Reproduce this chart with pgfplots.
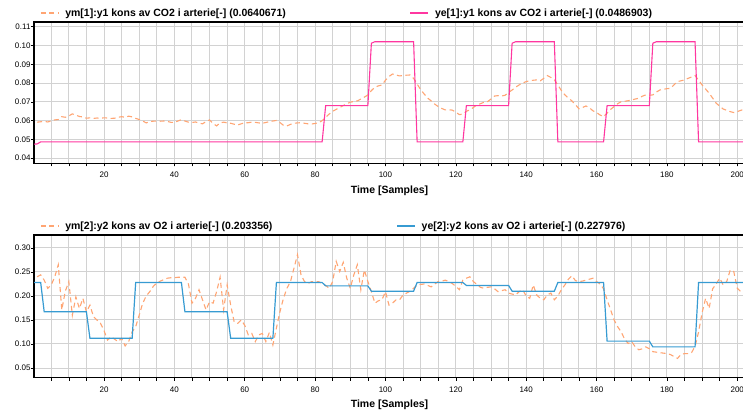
\documentclass[border=0pt]{standalone}
\usepackage{fontspec}
\setmainfont{Liberation Sans}
\usepackage{pgfplots}
\pgfplotsset{compat=1.18}
\definecolor{ymorange}{RGB}{255,165,115}
\definecolor{yepink}{RGB}{255,55,160}
\definecolor{yeblue}{RGB}{55,155,210}
\definecolor{gridgray}{RGB}{210,210,210}
\pgfplotsset{
  base/.style={
    scale only axis, width=711pt,
    xmin=0.1, xmax=202.2,
    axis line style={black, line width=1.4pt},
    xtick={20,40,...,200},
    minor xtick={5,10,...,200},
    xtick pos=left, ytick pos=left,
    tick align=outside,
    major tick length=3pt, minor tick length=3pt,
    tick style={black, line width=0.6pt},
    grid=both,
    major grid style={gridgray, line width=1pt},
    minor grid style={gridgray, line width=1pt},
    ticklabel style={font=\fontsize{8}{9}\selectfont},
    xticklabel style={yshift=-2.5pt},
    /pgf/number format/assume math mode=true,
    scaled y ticks=false,
    yticklabel style={xshift=3pt, /pgf/number format/fixed, /pgf/number format/fixed zerofill, /pgf/number format/precision=2},
    xlabel={Time [Samples]},
    xlabel style={font=\fontsize{10.5}{12}\selectfont\bfseries, at={(axis description cs:0.5,0)}, anchor=center, yshift=-27pt},
    legend columns=2,
    legend style={draw=none, fill=none, at={(axis description cs:0,1)}, anchor=west, xshift=6pt, yshift=9pt,
      font=\fontsize{10.5}{12}\selectfont\bfseries, inner sep=0pt,
      /tikz/every even column/.append style={column sep=122pt},
      /tikz/every odd column/.append style={column sep=4pt}},
    legend image code/.code={\draw[#1] (0pt,0pt) -- (18pt,0pt);},
  },
  ymstyle/.style={ymorange, line width=1.1pt, dash pattern=on 5pt off 3.5pt},
}
\begin{document}
\begin{tikzpicture}
\begin{axis}[base, at={(34pt,-22pt)}, anchor=north west, height=141.3pt,
  ymin=0.0373, ymax=0.1125,
  ytick={0.04,0.05,0.06,0.07,0.08,0.09,0.10,0.11}]
\addplot[ymstyle] coordinates {
(1,0.0592) (2,0.0594) (3,0.0596) (4,0.0593) (5,0.0598) (6,0.0604) (7,0.0606) (8,0.0621) (9,0.0618) (10,0.0625)
(11,0.0636) (12,0.0630) (13,0.0622) (14,0.0620) (15,0.0613) (16,0.0615) (17,0.0612) (18,0.0614) (19,0.0613) (20,0.0615)
(21,0.0614) (22,0.0612) (23,0.0613) (24,0.0618) (25,0.0621) (26,0.0618) (27,0.0624) (28,0.0620) (29,0.0612) (30,0.0606)
(31,0.0598) (32,0.0588) (33,0.0595) (34,0.0597) (35,0.0598) (36,0.0597) (37,0.0598) (38,0.0596) (39,0.0591) (40,0.0590)
(41,0.0598) (42,0.0605) (43,0.0598) (44,0.0592) (45,0.0590) (46,0.0593) (47,0.0587) (48,0.0583) (49,0.0595) (50,0.0604)
(51,0.0585) (52,0.0572) (53,0.0588) (54,0.0592) (55,0.0588) (56,0.0586) (57,0.0581) (58,0.0577) (59,0.0583) (60,0.0589)
(61,0.0589) (62,0.0592) (63,0.0591) (64,0.0588) (65,0.0586) (66,0.0590) (67,0.0595) (68,0.0598) (69,0.0601) (70,0.0590)
(71,0.0575) (72,0.0572) (73,0.0580) (74,0.0586) (75,0.0588) (76,0.0589) (77,0.0586) (78,0.0583) (79,0.0582) (80,0.0585)
(81,0.0589) (82,0.0600) (83,0.0618) (84,0.0635) (85,0.0650) (86,0.0660) (87,0.0670) (88,0.0680) (89,0.0690) (90,0.0698)
(91,0.0702) (92,0.0705) (93,0.0715) (94,0.0725) (95,0.0737) (96,0.0760) (97,0.0778) (98,0.0785) (99,0.0790) (100,0.0815)
(101,0.0835) (102,0.0848) (103,0.0843) (104,0.0838) (105,0.0840) (106,0.0842) (107,0.0843) (108,0.0825) (109,0.0795) (110,0.0765)
(111,0.0742) (112,0.0720) (113,0.0705) (114,0.0688) (115,0.0675) (116,0.0665) (117,0.0657) (118,0.0658) (119,0.0656) (120,0.0645)
(121,0.0632) (122,0.0635) (123,0.0650) (124,0.0657) (125,0.0670) (126,0.0684) (127,0.0690) (128,0.0698) (129,0.0701) (130,0.0715)
(131,0.0731) (132,0.0733) (133,0.0731) (134,0.0735) (135,0.0750) (136,0.0763) (137,0.0778) (138,0.0790) (139,0.0800) (140,0.0808)
(141,0.0812) (142,0.0815) (143,0.0817) (144,0.0812) (145,0.0825) (146,0.0840) (147,0.0830) (148,0.0817) (149,0.0790) (150,0.0760)
(151,0.0737) (152,0.0720) (153,0.0705) (154,0.0685) (155,0.0663) (156,0.0670) (157,0.0678) (158,0.0668) (159,0.0652) (160,0.0643)
(161,0.0630) (162,0.0621) (163,0.0640) (164,0.0660) (165,0.0675) (166,0.0690) (167,0.0701) (168,0.0703) (169,0.0706) (170,0.0710)
(171,0.0715) (172,0.0719) (173,0.0730) (174,0.0737) (175,0.0735) (176,0.0737) (177,0.0752) (178,0.0763) (179,0.0767) (180,0.0770)
(181,0.0772) (182,0.0790) (183,0.0808) (184,0.0812) (185,0.0817) (186,0.0825) (187,0.0832) (188,0.0840) (189,0.0815) (190,0.0790)
(191,0.0768) (192,0.0746) (193,0.0720) (194,0.0693) (195,0.0677) (196,0.0662) (197,0.0655) (198,0.0648) (199,0.0643) (200,0.0648)
(201,0.0655) (202,0.0660)
};
\addlegendentry{ym[1]:y1 kons av CO2 i arterie[-] (0.0640671)}
\addplot[yepink, line width=1.1pt] coordinates {
(0,0.0475) (1,0.0476) (2,0.0487) (82,0.0487) (83,0.068) (95,0.068) (96,0.1012) (97,0.102) (108,0.102)
(109,0.0487) (122,0.0487) (123,0.068) (135,0.068) (136,0.1012) (137,0.102) (148,0.102) (149,0.0487)
(162,0.0487) (163,0.068) (175,0.068) (176,0.1012) (177,0.102) (188,0.102) (189,0.0487) (202,0.0487)
};
\addlegendentry{ye[1]:y1 kons av CO2 i arterie[-] (0.0486903)}
\end{axis}
\begin{axis}[base, at={(34pt,-235pt)}, anchor=north west, height=142.7pt,
  ymin=0.0298, ymax=0.327,
  ytick={0.05,0.10,0.15,0.20,0.25,0.30}]
\addplot[ymstyle] coordinates {
(1,0.240) (2,0.244) (3,0.233) (4,0.216) (5,0.223) (6,0.240) (7,0.265) (8,0.171) (9,0.210) (10,0.230)
(11,0.160) (12,0.198) (13,0.174) (14,0.195) (15,0.167) (16,0.181) (17,0.157) (18,0.150) (19,0.143) (20,0.128)
(21,0.108) (22,0.115) (23,0.110) (24,0.105) (25,0.112) (26,0.096) (27,0.105) (28,0.125) (29,0.136) (30,0.160)
(31,0.185) (32,0.200) (33,0.209) (34,0.220) (35,0.227) (36,0.231) (37,0.234) (38,0.237) (39,0.238) (40,0.238)
(41,0.239) (42,0.239) (43,0.239) (44,0.225) (45,0.185) (46,0.195) (47,0.213) (48,0.192) (49,0.171) (50,0.188)
(51,0.185) (52,0.209) (53,0.239) (54,0.171) (55,0.223) (56,0.181) (57,0.146) (58,0.143) (59,0.150) (60,0.139)
(61,0.119) (62,0.122) (63,0.105) (64,0.119) (65,0.122) (66,0.105) (67,0.124) (68,0.098) (69,0.133) (70,0.167)
(71,0.195) (72,0.216) (73,0.230) (74,0.258) (75,0.286) (76,0.244) (77,0.230) (78,0.226) (79,0.230) (80,0.230)
(81,0.230) (82,0.226) (83,0.222) (84,0.216) (85,0.230) (86,0.272) (87,0.251) (88,0.270) (89,0.237) (90,0.216)
(91,0.244) (92,0.265) (93,0.213) (94,0.254) (95,0.230) (96,0.209) (97,0.185) (98,0.190) (99,0.192) (100,0.209)
(101,0.181) (102,0.185) (103,0.192) (104,0.192) (105,0.202) (106,0.206) (107,0.210) (108,0.216) (109,0.223) (110,0.224)
(111,0.225) (112,0.222) (113,0.219) (114,0.225) (115,0.230) (116,0.231) (117,0.233) (118,0.230) (119,0.226) (120,0.220)
(121,0.213) (122,0.233) (123,0.237) (124,0.240) (125,0.230) (126,0.224) (127,0.218) (128,0.216) (129,0.218) (130,0.219)
(131,0.215) (132,0.209) (133,0.211) (134,0.213) (135,0.206) (136,0.204) (137,0.202) (138,0.209) (139,0.213) (140,0.200)
(141,0.195) (142,0.223) (143,0.202) (144,0.195) (145,0.192) (146,0.202) (147,0.206) (148,0.192) (149,0.200) (150,0.213)
(151,0.223) (152,0.235) (153,0.242) (154,0.232) (155,0.230) (156,0.231) (157,0.233) (158,0.235) (159,0.237) (160,0.230)
(161,0.225) (162,0.215) (163,0.192) (164,0.171) (165,0.150) (166,0.136) (167,0.125) (168,0.110) (169,0.101) (170,0.105)
(171,0.094) (172,0.088) (173,0.090) (174,0.094) (175,0.090) (176,0.084) (177,0.083) (178,0.082) (179,0.081) (180,0.080)
(181,0.078) (182,0.074) (183,0.070) (184,0.078) (185,0.080) (186,0.080) (187,0.082) (188,0.095) (189,0.125) (190,0.165)
(191,0.195) (192,0.174) (193,0.215) (194,0.225) (195,0.237) (196,0.223) (197,0.230) (198,0.254) (199,0.251) (200,0.216)
(201,0.209) (202,0.210)
};
\addlegendentry{ym[2]:y2 kons av O2 i arterie[-] (0.203356)}
\addplot[yeblue, line width=1.2pt] coordinates {
(0,0.228) (2,0.228) (3,0.167) (15,0.167) (16,0.112) (28,0.112) (29,0.228) (42,0.228) (43,0.167) (55,0.167)
(56,0.112) (68,0.112) (69,0.228) (82,0.228) (83,0.221) (95,0.221) (96,0.210) (108,0.210) (109,0.228) (122,0.228)
(123,0.222) (135,0.222) (136,0.210) (148,0.210) (149,0.228) (162,0.228) (163,0.106) (175,0.106) (176,0.094) (188,0.094)
(189,0.228) (202,0.228)
};
\addlegendentry{ye[2]:y2 kons av O2 i arterie[-] (0.227976)}
\end{axis}
\pgfresetboundingbox
\useasboundingbox (0,0) rectangle (743pt,-411pt);
\end{tikzpicture}
\end{document}
